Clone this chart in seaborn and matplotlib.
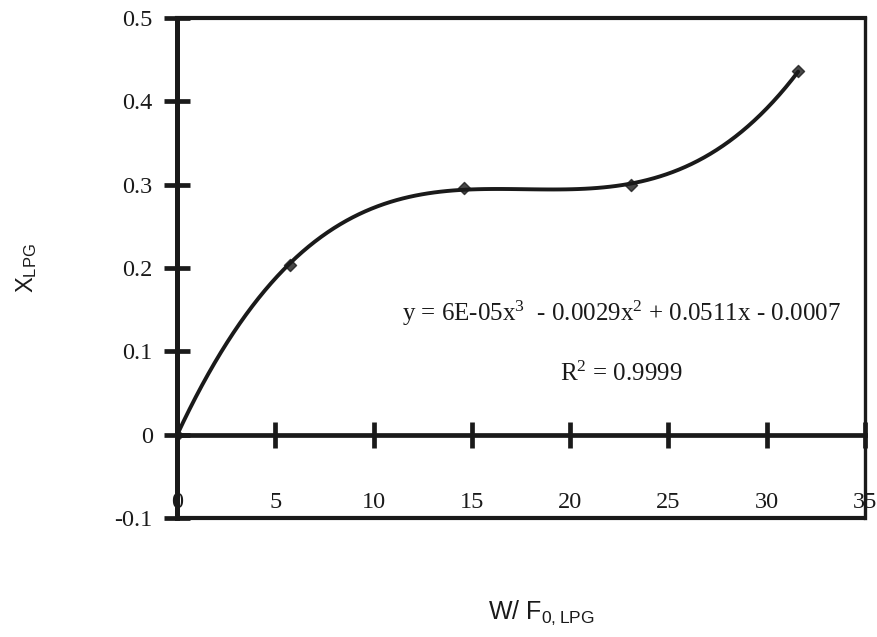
import matplotlib
matplotlib.use("Agg")
import matplotlib.pyplot as plt
import seaborn as sns
import numpy as np
import pandas as pd

# Data
w_f = [0.0, 5.75, 14.6, 23.1, 31.6]
x_lpg = [0.0, 0.204, 0.296, 0.300, 0.436]
x_ticks = [0, 5, 10, 15, 20, 25, 30, 35]
y_ticks = [-0.1, 0, 0.1, 0.2, 0.3, 0.4, 0.5]
y_tick_labels = ["-0.1", "0", "0.1", "0.2", "0.3", "0.4", "0.5"]
eq_text = r"y = 6E-05x$^{\mathregular{ 3}}$  - 0.0029x$^{\mathregular{ 2}}$ + 0.0511x - 0.0007"
r2_text = r"R$^{\mathregular{2}}$ = 0.9999"

sns.set_theme(style="white")
plt.rcParams["font.family"] = ["Liberation Serif", "DejaVu Serif"]
plt.rcParams["mathtext.default"] = "regular"

df = pd.DataFrame({"W/F": w_f, "X": x_lpg})

fig = plt.figure(figsize=(8.78, 6.37), dpi=100)
ax = fig.add_axes([177 / 878, 1 - 518 / 637, 688 / 878, 500 / 637])

sns.regplot(data=df, x="W/F", y="X", order=3, ci=None, ax=ax,
            marker="D", color="#1a1a1a",
            scatter_kws={"s": 38, "zorder": 5},
            line_kws={"lw": 2.8, "color": "#1a1a1a"})

ax.set_xlim(0, 35)
ax.set_ylim(-0.1, 0.5)

# spines / frame
ax.spines["bottom"].set_position(("data", 0))
ax.spines["bottom"].set_linewidth(3.4)
ax.spines["left"].set_linewidth(3.6)
ax.spines["top"].set_linewidth(3.0)
ax.spines["right"].set_linewidth(2.4)
for s in ax.spines.values():
    s.set_color("#1a1a1a")
ax.axhline(-0.1, color="#1a1a1a", lw=3.0, clip_on=False, zorder=6)

ax.set_xticks(x_ticks)
ax.set_xticklabels([str(t) for t in x_ticks])
ax.set_yticks(y_ticks)
ax.set_yticklabels(y_tick_labels)
ax.tick_params(axis="x", direction="inout", length=19, width=3.4,
               color="#1a1a1a", pad=32, labelsize=17.5, labelcolor="#1a1a1a")
ax.tick_params(axis="y", direction="inout", length=19, width=3.4,
               color="#1a1a1a", pad=8, labelsize=17.5, labelcolor="#1a1a1a")
ax.tick_params(left=True, bottom=True)

ax.set_ylabel(r"X$_{\mathregular{LPG}}$", family=["Liberation Sans"], fontsize=17,
              color="#1a1a1a")
ax.yaxis.set_label_coords(-0.201, 0.5)
ax.set_xlabel(r"W/ F$_{\mathregular{0,LPG}}$", family=["Liberation Sans"], fontsize=18,
              color="#1a1a1a")
ax.xaxis.set_label_coords(0.530, -0.162)

ax.text(22.6, 0.145, eq_text, ha="center", va="center", fontsize=18, color="#1a1a1a")
ax.text(22.6, 0.073, r2_text, ha="center", va="center", fontsize=18, color="#1a1a1a")

fig.savefig("out.png", dpi=100, facecolor="white")
